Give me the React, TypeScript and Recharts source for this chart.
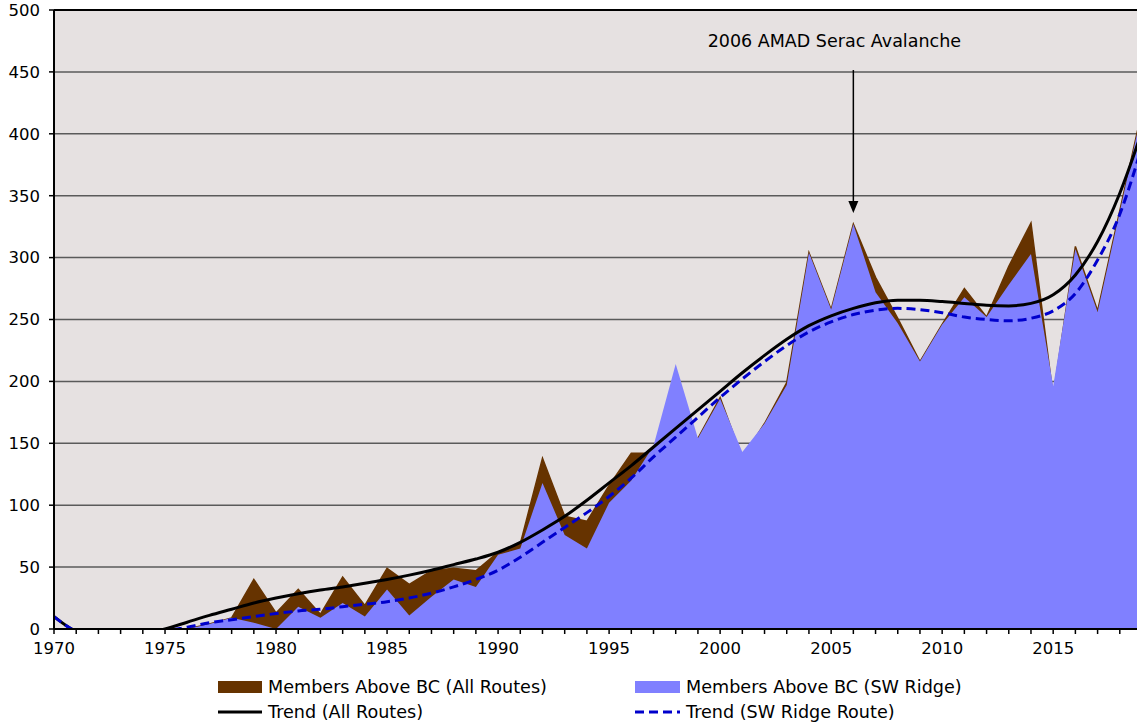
import React from 'react';
import {
  ComposedChart,
  Area,
  Line,
  XAxis,
  YAxis,
  CartesianGrid,
  ReferenceLine,
  Legend,
} from 'recharts';

const years = [
  1970, 1971, 1972, 1973, 1974, 1975, 1976, 1977, 1978, 1979,
  1980, 1981, 1982, 1983, 1984, 1985, 1986, 1987, 1988, 1989,
  1990, 1991, 1992, 1993, 1994, 1995, 1996, 1997, 1998, 1999,
  2000, 2001, 2002, 2003, 2004, 2005, 2006, 2007, 2008, 2009,
  2010, 2011, 2012, 2013, 2014, 2015, 2016, 2017, 2018, 2019,
];

const allRoutes = [
  0, 0, 0, 0, 0, 0, 0, 4, 9, 40,
  13, 32, 12, 42, 19, 49, 36, 47, 49, 47,
  62, 69, 138, 91, 87, 116, 142, 142, 150, 154,
  187, 138, 166, 199, 304, 258, 327, 284, 251, 216,
  246, 275, 252, 293, 328, 188, 309, 257, 338, 419,
];

const swRidge = [
  0, 0, 0, 0, 0, 0, 0, 4, 9, 5,
  0, 18, 9, 21, 10, 32, 11, 26, 40, 34,
  60, 65, 118, 76, 65, 102, 120, 148, 214, 154,
  186, 143, 166, 197, 304, 258, 327, 272, 247, 216,
  246, 268, 252, 278, 303, 196, 307, 256, 337, 418,
];

// Polynomial trend values; the negative part is clipped by the axis (min 0)
const trendAll = [
  10, -2, -6, -7, -5, 0, 5.5, 11, 16, 21,
  25, 28.5, 31.5, 34, 37, 40, 43.5, 47.5, 52, 56.5,
  62, 70, 80, 91, 104, 118, 132, 147, 162, 177,
  192, 207, 221, 234, 245, 253, 259, 263.5, 265.5, 265.5,
  264.5, 263, 261.5, 261, 263, 270, 286, 313, 352, 402,
];

const trendSW = [
  10, -2, -7, -9, -8, -2, 1.5, 5, 7.5, 10,
  12.5, 14.5, 16, 18, 20, 22, 25, 29, 34, 40,
  47.5, 58, 70, 82, 94, 107, 122, 139, 155, 171,
  187, 202, 216, 229, 240, 248, 254, 257.5, 259, 258,
  255.5, 252, 250, 249, 251, 257, 271, 298, 335, 390,
];

const yTicks = [0, 50, 100, 150, 200, 250, 300, 350, 400, 450, 500];

const annotationText = '2006 AMAD Serac Avalanche';
const annotationYear = 2006;
const annotationTop = 451.5;
const annotationTip = 336;

const data = years.map((year, i) => ({
  year,
  allRoutes: allRoutes[i],
  swRidge: swRidge[i],
  trendAll: trendAll[i],
  trendSW: trendSW[i],
}));

const FONT = 'DejaVu Sans';

const ArrowShape = (props: any) => {
  const { x1, y1, x2, y2 } = props;
  return (
    <g>
      <line x1={x1} y1={y1} x2={x2} y2={y2 - 10} stroke="#000" strokeWidth={1.5} />
      <polygon points={`${x2 - 5},${y2 - 12} ${x2 + 5},${y2 - 12} ${x2},${y2}`} fill="#000" />
      <text
        x={x1 - 19}
        y={y1 - 23}
        textAnchor="middle"
        fontSize={17.5}
        fontFamily={FONT}
        fill="#000"
      >
        {annotationText}
      </text>
    </g>
  );
};

const LegendContent = () => {
  const textStyle: React.CSSProperties = {
    position: 'absolute',
    fontFamily: FONT,
    fontSize: 17.6,
    color: '#000',
    lineHeight: '20px',
    whiteSpace: 'nowrap',
  };
  return (
    <div style={{ position: 'relative', width: 1152, height: 56 }}>
      <div style={{ position: 'absolute', left: 218, top: 11, width: 44, height: 12, background: '#663300' }} />
      <div style={{ ...textStyle, left: 268, top: 7 }}>Members Above BC (All Routes)</div>
      <div style={{ position: 'absolute', left: 635, top: 11, width: 45, height: 12, background: '#8080FF' }} />
      <div style={{ ...textStyle, left: 686, top: 7 }}>Members Above BC (SW Ridge)</div>
      <svg style={{ position: 'absolute', left: 218, top: 36 }} width={45} height={12}>
        <line x1={0} y1={6} x2={44} y2={6} stroke="#000" strokeWidth={3} />
      </svg>
      <div style={{ ...textStyle, left: 268, top: 32 }}>Trend (All Routes)</div>
      <svg style={{ position: 'absolute', left: 635, top: 36 }} width={46} height={12}>
        <line x1={0} y1={6} x2={45} y2={6} stroke="#0000CC" strokeWidth={3} strokeDasharray="9 5" />
      </svg>
      <div style={{ ...textStyle, left: 686, top: 32 }}>Trend (SW Ridge Route)</div>
    </div>
  );
};

export default function App() {
  return (
    <div
      style={{
        position: 'absolute',
        left: 0,
        top: 0,
        width: 1137,
        height: 726,
        overflow: 'hidden',
        background: '#fff',
      }}
    >
      <ComposedChart
        width={1152}
        height={726}
        data={data}
        margin={{ top: 10, right: 10, bottom: 0, left: 0 }}
      >
        <CartesianGrid
          horizontal
          vertical={false}
          fill="#E6E1E1"
          fillOpacity={1}
          stroke="#5a5a5a"
          strokeWidth={1.5}
        />
        <XAxis
          dataKey="year"
          type="number"
          domain={[1970, 2019]}
          ticks={years}
          interval={0}
          tickFormatter={(v: number) => (v % 5 === 0 ? String(v) : '')}
          tickSize={5}
          tickMargin={8}
          height={41}
          axisLine={{ stroke: '#000', strokeWidth: 2 }}
          tickLine={{ stroke: '#000', strokeWidth: 1.5 }}
          tick={{ fontSize: 16.5, fill: '#000', fontFamily: FONT }}
        />
        <YAxis
          type="number"
          domain={[0, 500]}
          allowDataOverflow
          ticks={yTicks}
          interval={0}
          width={54}
          tickSize={5}
          tickMargin={9}
          axisLine={{ stroke: '#000', strokeWidth: 2 }}
          tickLine={{ stroke: '#000', strokeWidth: 1.5 }}
          tick={{ fontSize: 16.5, fill: '#000', fontFamily: FONT }}
        />
        <ReferenceLine y={500} stroke="#000" strokeWidth={2} />
        <Area
          dataKey="allRoutes"
          name="Members Above BC (All Routes)"
          type="linear"
          fill="#663300"
          fillOpacity={1}
          stroke="#663300"
          strokeWidth={1.5}
          isAnimationActive={false}
        />
        <Area
          dataKey="swRidge"
          name="Members Above BC (SW Ridge)"
          type="linear"
          fill="#8080FF"
          fillOpacity={1}
          stroke="none"
          isAnimationActive={false}
        />
        <Line
          dataKey="trendAll"
          name="Trend (All Routes)"
          type="monotone"
          stroke="#000"
          strokeWidth={3}
          dot={false}
          activeDot={false}
          isAnimationActive={false}
        />
        <Line
          dataKey="trendSW"
          name="Trend (SW Ridge Route)"
          type="monotone"
          stroke="#0000CC"
          strokeWidth={3}
          strokeDasharray="9 5"
          dot={false}
          activeDot={false}
          isAnimationActive={false}
        />
        <ReferenceLine
          segment={[
            { x: annotationYear, y: annotationTop },
            { x: annotationYear, y: annotationTip },
          ]}
          shape={ArrowShape}
        />
        <Legend
          verticalAlign="bottom"
          content={LegendContent}
          wrapperStyle={{ left: 0, width: 1152 }}
        />
      </ComposedChart>
    </div>
  );
}
